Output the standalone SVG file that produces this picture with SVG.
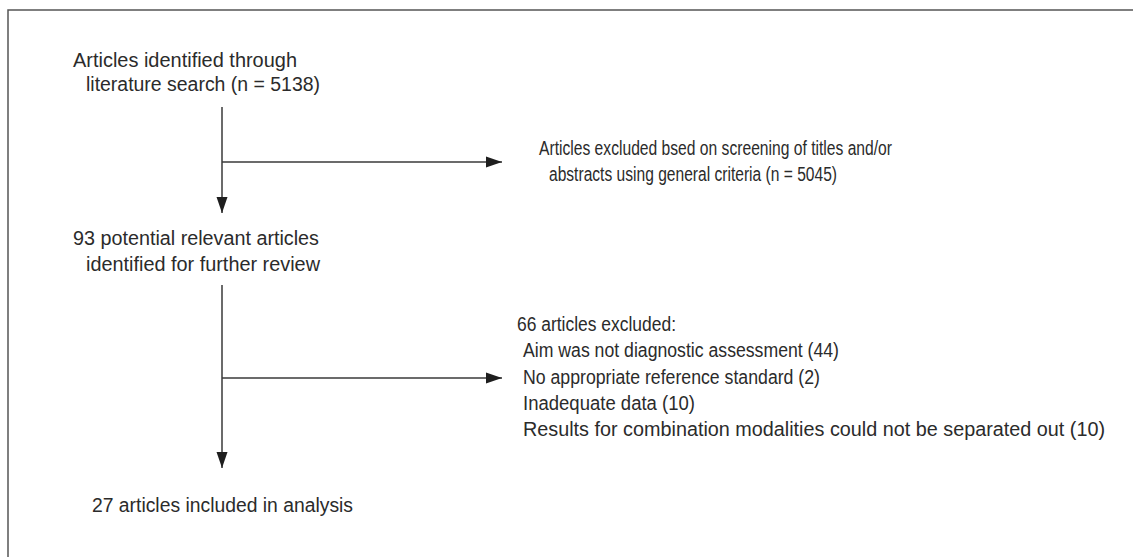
<svg xmlns="http://www.w3.org/2000/svg" width="1133" height="557" viewBox="0 0 1133 557">
  <style>
    .t { font-family: "Liberation Sans", Arial, sans-serif; font-size: 20px; fill: #2b2b2b; }
    .ln { stroke: #3a3a3a; stroke-width: 1.5; fill: none; }
    .frame { stroke: #555; stroke-width: 1.5; fill: none; }
  </style>
  <defs>
    <marker id="arr" markerUnits="userSpaceOnUse" markerWidth="16" markerHeight="12" refX="16" refY="6" orient="auto">
      <path d="M0,0.5 L16,6 L0,11.5 z" fill="#1e1e1e"/>
    </marker>
  </defs>
  <rect width="1133" height="557" fill="#ffffff"/>
  <path class="frame" d="M8,557 L8,10 L1133,10"/>

  <g id="connectors">
    <line class="ln" x1="222" y1="107" x2="222" y2="213" marker-end="url(#arr)"/>
    <line class="ln" x1="222" y1="162" x2="502" y2="162" marker-end="url(#arr)"/>
    <line class="ln" x1="222" y1="285" x2="222" y2="468" marker-end="url(#arr)"/>
    <line class="ln" x1="222" y1="378" x2="502" y2="378" marker-end="url(#arr)"/>
  </g>

  <g id="node-identified">
    <text class="t" x="73" y="67" textLength="224" lengthAdjust="spacingAndGlyphs">Articles identified through</text>
    <text class="t" x="86" y="91" textLength="234" lengthAdjust="spacingAndGlyphs">literature search (n = 5138)</text>
  </g>

  <g id="node-excluded-screening">
    <text class="t" x="539" y="155" textLength="353" lengthAdjust="spacingAndGlyphs">Articles excluded bsed on screening of titles and/or</text>
    <text class="t" x="549" y="181" textLength="288" lengthAdjust="spacingAndGlyphs">abstracts using general criteria (n = 5045)</text>
  </g>

  <g id="node-potential">
    <text class="t" x="73" y="245" textLength="246" lengthAdjust="spacingAndGlyphs">93 potential relevant articles</text>
    <text class="t" x="86" y="271" textLength="234" lengthAdjust="spacingAndGlyphs">identified for further review</text>
  </g>

  <g id="node-excluded-66">
    <text class="t" x="517" y="331" textLength="159" lengthAdjust="spacingAndGlyphs">66 articles excluded:</text>
    <text class="t" x="523" y="357" textLength="316" lengthAdjust="spacingAndGlyphs">Aim was not diagnostic assessment (44)</text>
    <text class="t" x="523" y="384" textLength="297" lengthAdjust="spacingAndGlyphs">No appropriate reference standard (2)</text>
    <text class="t" x="523" y="410" textLength="172" lengthAdjust="spacingAndGlyphs">Inadequate data (10)</text>
    <text class="t" x="523" y="436" textLength="582" lengthAdjust="spacingAndGlyphs">Results for combination modalities could not be separated out (10)</text>
  </g>

  <g id="node-included">
    <text class="t" x="92" y="512" textLength="261" lengthAdjust="spacingAndGlyphs">27 articles included in analysis</text>
  </g>
</svg>
